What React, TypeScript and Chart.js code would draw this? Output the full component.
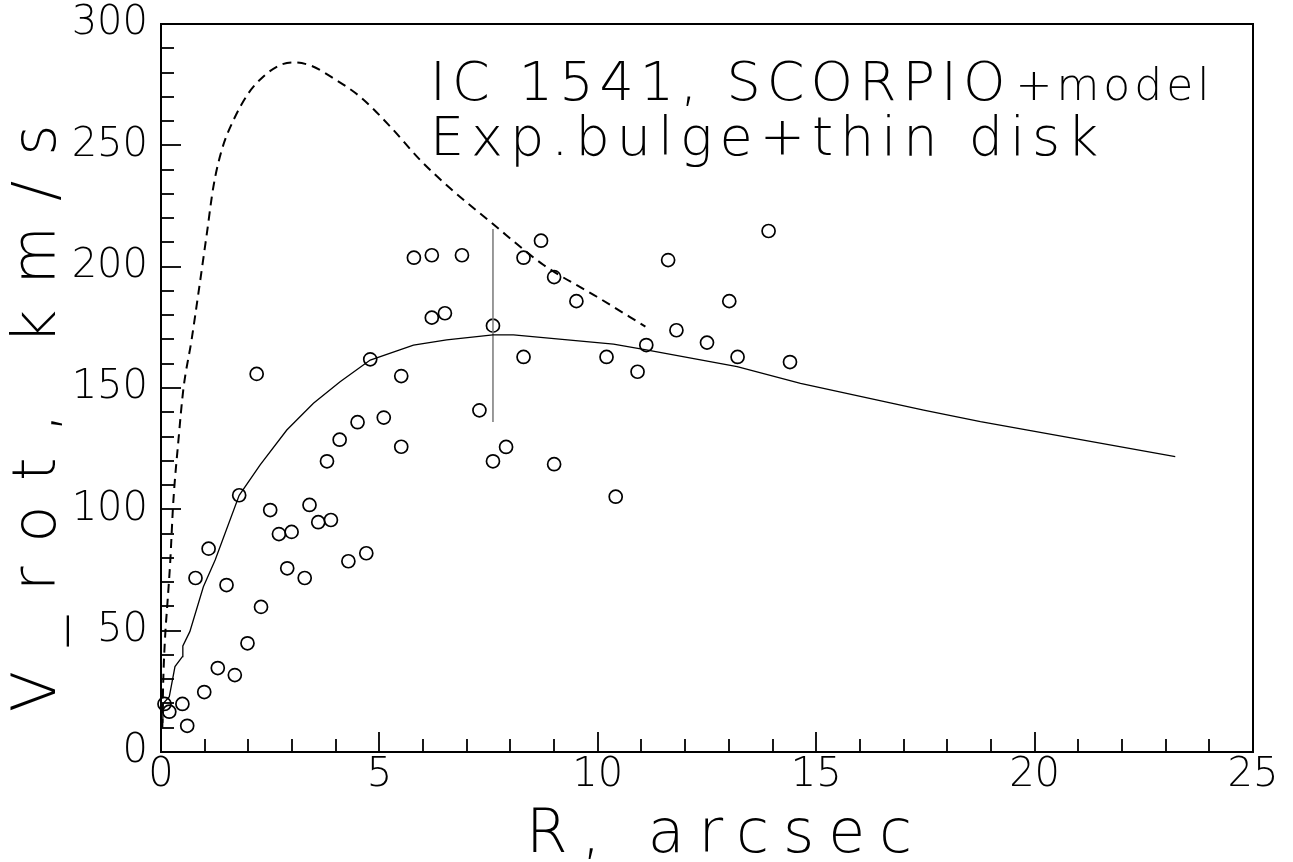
import React, { useEffect, useRef } from "react";
import { Chart, registerables } from "chart.js";

Chart.register(...registerables);

// Observed rotation velocities (SCORPIO)
const OBS_R = [0.08, 0.19, 0.49, 0.6, 0.79, 0.99, 1.09, 1.3, 1.5, 1.69, 1.79, 1.98, 2.19, 2.29, 2.5, 2.7, 2.89, 2.99, 3.29, 3.4, 3.6, 3.8, 3.89, 4.09, 4.29, 4.5, 4.7, 4.79, 5.1, 5.5, 5.5, 5.79, 6.2, 6.2, 6.5, 6.89, 7.29, 7.6, 7.6, 7.9, 8.3, 8.3, 8.7, 9.0, 9.0, 9.51, 10.2, 10.41, 10.91, 11.11, 11.61, 11.8, 12.5, 13.01, 13.2, 13.91, 14.4];
const OBS_V = [19.8, 16.6, 19.8, 10.8, 71.7, 24.7, 83.8, 34.6, 68.8, 31.7, 105.8, 44.8, 155.8, 59.8, 99.7, 89.8, 75.7, 90.7, 71.7, 101.8, 94.7, 119.8, 95.6, 128.7, 78.6, 135.9, 81.9, 161.8, 137.8, 154.9, 125.8, 203.7, 179.0, 204.7, 180.8, 204.7, 140.8, 175.7, 119.8, 125.7, 203.7, 162.8, 210.7, 195.7, 118.6, 185.8, 162.8, 105.2, 156.7, 167.7, 202.7, 173.8, 168.7, 185.8, 162.8, 214.7, 160.7];

// Model curve (solid)
const MODEL_R = [0.04, 0.05, 0.19, 0.32, 0.49, 0.5, 0.66, 0.97, 1.24, 1.79, 2.27, 2.88, 3.49, 4.1, 4.79, 5.78, 6.54, 7.6, 8.07, 10.36, 11.11, 13.19, 14.64, 17.46, 18.76, 23.22];
const MODEL_V = [12, 20, 22.8, 35.2, 39.3, 43.7, 49.6, 68.1, 79.1, 105.8, 118.3, 132.7, 143.7, 152.6, 161.5, 167.7, 169.8, 171.9, 171.9, 168.1, 165.7, 158.8, 151.9, 140.9, 136.1, 121.7];

// Dashed curve
const DASH_R = [0.03, 0.05, 0.09, 0.15, 0.21, 0.28, 0.4, 0.51, 0.7, 0.84, 1.05, 1.2, 1.39, 1.66, 2.0, 2.34, 2.73, 3.03, 3.45, 3.95, 4.56, 5.25, 5.93, 6.62, 7.54, 8.76, 9.98, 11.09];
const DASH_V = [10, 28.4, 46.2, 62, 78, 102.6, 128.6, 149.2, 169.8, 187, 213.7, 233, 248, 260.4, 271.4, 278.3, 283.1, 284.2, 282.7, 277.6, 270, 257.7, 244, 232.3, 218.5, 200.7, 187.6, 175.3];

// Vertical error bar
const ERR_R = [7.6, 7.6];
const ERR_V = [136, 215.5];

const X_TICKS = [0, 5, 10, 15, 20, 25];
const Y_TICKS = [0, 50, 100, 150, 200, 250, 300];
const X_MINOR_STEP = 1;
const Y_MINOR_STEP = 10;

const X_TITLE = "R, arcsec";
const Y_TITLE = "V_rot, km/s";
const NOTE_1A = "IC 1541, SCORPIO";
const NOTE_1B = "+model";
const NOTE_2 = "Exp.bulge+thin disk";

const FAMILY = "'DejaVu Sans ExtraLight', 'DejaVu Sans', sans-serif";

const pts = (xs: number[], ys: number[]) => xs.map((x, i) => ({ x, y: ys[i] }));

const framePlugin = {
  id: "frame",
  afterDraw(chart: any) {
    const { ctx, chartArea: a, scales } = chart;
    const xs = scales.x;
    const ys = scales.y;
    ctx.save();
    ctx.strokeStyle = "#000";
    ctx.lineWidth = 2;
    ctx.strokeRect(a.left, a.top, a.right - a.left, a.bottom - a.top);
    ctx.lineWidth = 1.8;
    const yMin = Y_TICKS[0];
    const yMax = Y_TICKS[Y_TICKS.length - 1];
    const yStep = Y_TICKS[1] - Y_TICKS[0];
    for (let v = yMin + Y_MINOR_STEP; v < yMax; v += Y_MINOR_STEP) {
      const py = Math.round(ys.getPixelForValue(v));
      const len = Math.abs(v % yStep) < 1e-6 ? 20 : 13;
      ctx.beginPath();
      ctx.moveTo(a.left, py);
      ctx.lineTo(a.left + len, py);
      ctx.stroke();
    }
    const xMin = X_TICKS[0];
    const xMax = X_TICKS[X_TICKS.length - 1];
    const xStep = X_TICKS[1] - X_TICKS[0];
    for (let v = xMin + X_MINOR_STEP; v < xMax; v += X_MINOR_STEP) {
      const px = Math.round(xs.getPixelForValue(v));
      const len = Math.abs(v % xStep) < 1e-6 ? 20 : 13;
      ctx.beginPath();
      ctx.moveTo(px, a.bottom);
      ctx.lineTo(px, a.bottom - len);
      ctx.stroke();
    }

    ctx.fillStyle = "#000";
    ctx.textBaseline = "alphabetic";
    ctx.textAlign = "left";
    // x title
    ctx.font = `200 60px ${FAMILY}`;
    (ctx as any).letterSpacing = "14px";
    ctx.fillText(X_TITLE, 526, 852);
    // y title
    ctx.save();
    ctx.translate(55, 712);
    ctx.rotate(-Math.PI / 2);
    (ctx as any).letterSpacing = "25px";
    ctx.fillText(Y_TITLE, 0, 0);
    ctx.restore();
    // annotation
    ctx.font = `200 54px ${FAMILY}`;
    (ctx as any).letterSpacing = "6px";
    ctx.fillText(NOTE_1A, 430, 100);
    const w = ctx.measureText(NOTE_1A).width;
    ctx.font = `200 44px ${FAMILY}`;
    (ctx as any).letterSpacing = "4px";
    ctx.fillText(NOTE_1B, 430 + w + 4, 100);
    ctx.font = `200 54px ${FAMILY}`;
    (ctx as any).letterSpacing = "7px";
    ctx.fillText(NOTE_2, 430, 155);
    (ctx as any).letterSpacing = "0px";
    ctx.restore();
  },
};

export default function App() {
  const ref = useRef<HTMLCanvasElement>(null);
  useEffect(() => {
    const tickFont = { family: FAMILY, size: 40, weight: "200" as any };
    const chart = new Chart(ref.current!, {
      type: "scatter",
      data: {
        datasets: [
          {
            type: "line",
            data: pts(DASH_R, DASH_V),
            borderColor: "#000",
            borderWidth: 2,
            borderDash: [9, 6],
            pointRadius: 0,
            cubicInterpolationMode: "monotone",
            fill: false,
          } as any,
          {
            type: "line",
            data: pts(MODEL_R, MODEL_V),
            borderColor: "#000",
            borderWidth: 1.3,
            pointRadius: 0,
            tension: 0,
            fill: false,
          } as any,
          {
            type: "line",
            data: pts(ERR_R, ERR_V),
            borderColor: "#808080",
            borderWidth: 1.6,
            pointRadius: 0,
            fill: false,
          } as any,
          {
            type: "scatter",
            data: pts(OBS_R, OBS_V),
            borderColor: "#000",
            backgroundColor: "rgba(0,0,0,0)",
            borderWidth: 1.7,
            pointRadius: 6.5,
            pointStyle: "circle",
            clip: 10,
          } as any,
        ],
      },
      options: {
        responsive: false,
        animation: false,
        events: [],
        layout: { padding: { left: 0, top: 24, right: 40, bottom: 0 } },
        plugins: { legend: { display: false }, tooltip: { enabled: false } },
        scales: {
          x: {
            type: "linear",
            min: X_TICKS[0],
            max: X_TICKS[X_TICKS.length - 1],
            afterFit: (s: any) => {
              s.height = 110;
              s.paddingLeft = 0;
              s.paddingRight = 0;
            },
            afterBuildTicks: (s: any) => {
              s.ticks = X_TICKS.map((v) => ({ value: v }));
            },
            ticks: { autoSkip: false, maxRotation: 0, padding: -8, color: "#000", font: tickFont },
            grid: { display: false },
            border: { display: false },
          },
          y: {
            type: "linear",
            min: Y_TICKS[0],
            max: Y_TICKS[Y_TICKS.length - 1],
            afterFit: (s: any) => {
              s.width = 161;
              s.paddingTop = 0;
              s.paddingBottom = 0;
            },
            afterBuildTicks: (s: any) => {
              s.ticks = Y_TICKS.map((v) => ({ value: v }));
            },
            ticks: { autoSkip: false, padding: 5, color: "#000", font: tickFont },
            grid: { display: false },
            border: { display: false },
          },
        },
      },
      plugins: [framePlugin],
    });
    return () => chart.destroy();
  }, []);
  return (
    <div style={{ position: "fixed", left: 0, top: 0, width: 1293, height: 862, background: "#fff" }}>
      <canvas ref={ref} width={1293} height={862} />
    </div>
  );
}
